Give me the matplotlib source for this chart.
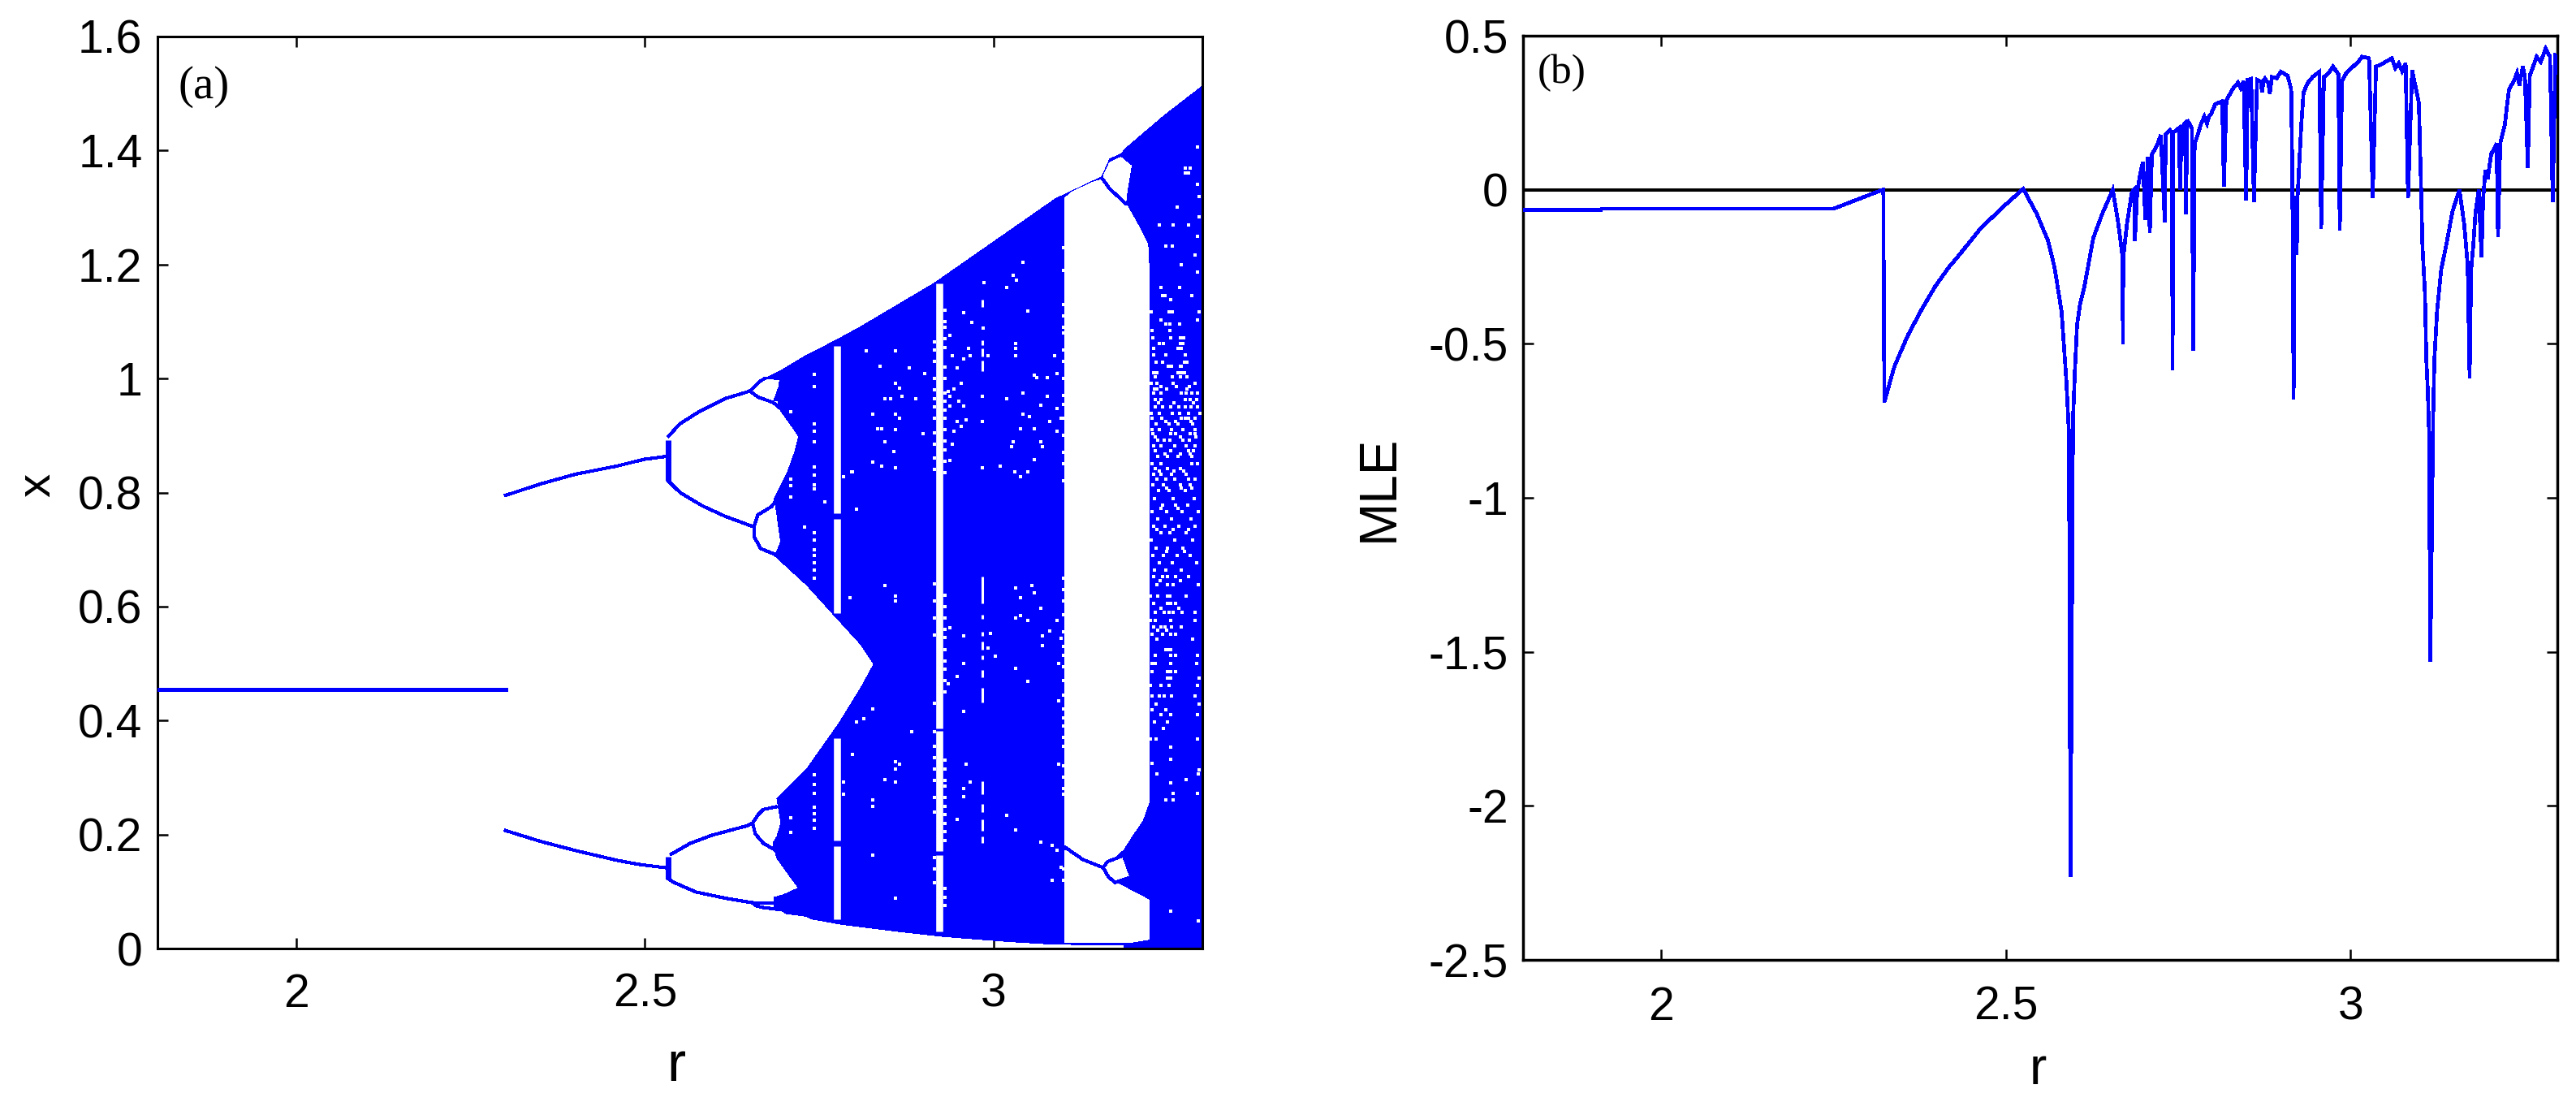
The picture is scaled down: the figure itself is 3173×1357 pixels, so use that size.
import matplotlib
matplotlib.use('Agg')
from matplotlib import pyplot as plt

###########################################################################
# (a) bifurcation diagram, outlines and dots

fixed_r = [1.8, 2.3]
fixed_x = [0.455, 0.455]

# period 2 branches
up_r = [2.3, 2.35, 2.40, 2.46, 2.499, 2.5283]
up_x = [0.795, 0.815, 0.832, 0.8465, 0.8583, 0.863]
lo_r = [2.3, 2.35, 2.40, 2.46, 2.4914, 2.5283]
lo_x = [0.207, 0.188, 0.172, 0.1547, 0.1476, 0.1419]

# period 4 branches
p4a_r = [2.534, 2.5497, 2.577, 2.6157, 2.6507, 2.666, 2.672]
p4a_x = [0.8987, 0.92, 0.9413, 0.965, 0.978, 0.996, 1.0]
p4b_r = [2.6507, 2.6623, 2.684, 2.692]
p4b_x = [0.978, 0.9675, 0.958, 0.95]
p4c_r = [2.534, 2.5505, 2.5827, 2.6157, 2.6565, 2.6623, 2.6817, 2.688]
p4c_x = [0.82, 0.8, 0.7765, 0.758, 0.7397, 0.761, 0.7753, 0.785]
p4d_r = [2.6565, 2.6565, 2.6662, 2.6856]
p4d_x = [0.7397, 0.7231, 0.7017, 0.692]
p4e_r = [2.538, 2.5652, 2.5963, 2.6468, 2.6545, 2.6584, 2.67, 2.688]
p4e_x = [0.1656, 0.1846, 0.1988, 0.2154, 0.2201, 0.2012, 0.1846, 0.172]
p4f_r = [2.6545, 2.6623, 2.6700, 2.688]
p4f_x = [0.2201, 0.2345, 0.2439, 0.2486]
p4g_r = [2.533, 2.542, 2.573, 2.6157, 2.6545, 2.6856]
p4g_x = [0.1229, 0.1158, 0.0992, 0.0882, 0.0802, 0.0802]
p4h_r = [2.6545, 2.6584, 2.668, 2.6934]
p4h_x = [0.0802, 0.0755, 0.0722, 0.0683]
split_r = [2.533, 2.533]
split_hi = [0.82, 0.892]
split2_r = [2.533, 2.533]
split2_lo = [0.1229, 0.1608]

# filled chaotic band, clockwise from the top left
band_r = [2.672, 2.6934, 2.732, 2.771, 2.81, 2.915, 3.09, 3.1025, 3.1557, 3.167, 3.183, 3.1926,
          3.245, 3.3, 3.3, 3.187, 3.187, 3.086, 3.02, 2.93, 2.86, 2.783, 2.74, 2.7323, 2.7031,
          2.6934, 2.6856, 2.6856, 2.6992, 2.7206, 2.709, 2.6895, 2.6837, 2.6895, 2.6953,
          2.6895, 2.7323, 2.7789, 2.81, 2.8286, 2.81, 2.771, 2.7323, 2.6856, 2.6895, 2.695,
          2.6895, 2.6856, 2.6934, 2.705, 2.7148, 2.7206, 2.7128, 2.6934, 2.684, 2.692, 2.6934]
band_x = [1.0, 1.0125, 1.041, 1.065, 1.091, 1.167, 1.316, 1.323, 1.354, 1.385, 1.394, 1.4064,
          1.461, 1.513, 0.0, 0.0, 0.0057, 0.0076, 0.0123, 0.0209, 0.0304, 0.0422, 0.0517, 0.0564,
          0.0612, 0.0683, 0.07, 0.0897, 0.0944, 0.1063, 0.1252, 0.1585, 0.1846, 0.1964, 0.2201,
          0.2629, 0.315, 0.3957, 0.4574, 0.4992, 0.5333, 0.5855, 0.6377, 0.6899, 0.697, 0.7136,
          0.761, 0.7895, 0.8085, 0.837, 0.8702, 0.8986, 0.9129, 0.946, 0.958, 0.985, 0.998]

# white period 3 window
win_r = [3.1025, 3.113, 3.144, 3.1557, 3.167, 3.183, 3.198, 3.192, 3.19, 3.1945, 3.21, 3.2217,
         3.2237, 3.2237, 3.214, 3.198, 3.187, 3.1576, 3.1285, 3.1025]
win_x = [1.3163, 1.3275, 1.345, 1.349, 1.379, 1.388, 1.373, 1.33, 1.307, 1.2973, 1.264, 1.2356,
         1.188, 0.2581, 0.2249, 0.1964, 0.175, 0.1419, 0.1561, 0.1775]
win2_r = [3.1025, 3.1576, 3.1654, 3.175, 3.198, 3.2237, 3.2237, 3.2, 3.1025]
win2_x = [0.172, 0.1419, 0.1253, 0.1158, 0.1015, 0.0849, 0.0161, 0.0112, 0.0112]
loop_r = [3.1576, 3.164, 3.187, 3.198, 3.175, 3.1654, 3.1576]
loop_x = [0.1419, 0.1525, 0.1632, 0.1253, 0.1158, 0.1253, 0.1419]
topbr_r = [3.1557, 3.167, 3.19]
topbr_x = [1.352, 1.333, 1.307]
lowbr_r = [3.1032, 3.1285, 3.1576]
lowbr_x = [0.1775, 0.1561, 0.1419]

# white stripes: r, from, to
stripe1_r = [2.776, 2.776, 2.776, 2.776]
stripe1_lo = [0.7634, 0.588, 0.1893, 0.0517]
stripe1_hi = [1.0576, 0.754, 0.3696, 0.1798]
stripe2_r = [2.922, 2.922, 2.922]
stripe2_lo = [0.3862, 0.1703, 0.0303]
stripe2_hi = [1.1668, 0.3815, 0.1632]
dash_lo = [0.605, 0.578, 0.548, 0.524, 0.507, 0.476, 0.431, 0.27, 0.239, 0.206, 0.185,
           1.126, 1.058, 1.039, 1.013]
dash_hi = [0.652, 0.585, 0.555, 0.538, 0.514, 0.488, 0.457, 0.294, 0.253, 0.227, 0.197,
           1.138, 1.067, 1.053, 1.032]

# ragged edges of the stripes and the window
rag_right_x = [1.12, 1.1, 1.09, 1.07, 1.055, 1.02, 1.0, 0.975, 0.96, 0.945, 0.93, 0.91, 0.89, 0.875,
               0.855, 0.835, 0.62, 0.6, 0.58, 0.56, 0.545, 0.525, 0.505, 0.49, 0.47, 0.45, 0.33,
               0.315, 0.295, 0.285, 0.265, 0.25, 0.235, 0.22, 0.205, 0.19, 0.105, 0.09, 0.075]
rag_left_x = [1.065, 1.05, 1.03, 1.0, 0.98, 0.965, 0.95, 0.93, 0.905, 0.885, 0.86, 0.84, 0.64, 0.61,
              0.58, 0.55, 0.43, 0.38, 0.355, 0.335, 0.315, 0.295, 0.265, 0.24, 0.16, 0.14, 0.115]
rag_win_x = [1.23, 1.19, 1.13, 1.11, 1.09, 1.08, 1.05, 1.03, 1.0, 0.97, 0.955, 0.93, 0.9, 0.87, 0.85,
             0.82, 0.65, 0.63, 0.61, 0.585, 0.555, 0.53, 0.515, 0.495, 0.47, 0.445, 0.42, 0.405,
             0.39, 0.37, 0.355, 0.32, 0.3, 0.28, 0.27, 0.14, 0.12]

# single white dots, low density part
dot_r = [2.8177, 2.8597, 2.837, 2.879, 2.902, 2.86, 2.866, 2.869, 2.844, 2.853, 2.889, 2.827, 2.86,
         2.866, 2.834, 2.84, 2.86, 2.899, 2.844, 2.857, 2.827, 2.84, 2.86, 2.797, 2.785,
         3.042, 3.029, 3.033, 2.987, 3.019, 3.049, 2.958, 2.969, 2.985, 2.938, 3.032, 3.032, 2.964,
         2.941, 2.958, 2.967, 2.993, 3.032, 3.088, 2.948, 3.059, 3.062, 3.078, 3.091, 2.954, 2.944,
         2.935, 2.938, 2.951, 2.984, 3.019, 3.042, 3.078, 3.068, 2.958, 2.938, 3.091, 3.042, 3.052,
         3.097, 2.961, 2.948, 2.984, 3.081, 2.954, 3.039, 3.059, 2.944, 3.091, 3.029, 3.068, 2.941,
         3.026, 3.071, 3.059, 2.938, 3.01, 2.984, 3.031, 3.049, 3.039,
         2.844, 2.86, 2.86, 2.794, 3.032, 3.055, 3.059, 3.039, 3.068, 3.039, 3.032, 3.049, 3.092,
         2.938, 3.081, 2.996, 2.958, 3.071, 3.097, 2.993, 3.071, 3.003, 2.958, 3.094, 3.032, 2.948,
         3.049, 2.935, 3.094, 2.827, 2.958, 2.814, 2.804, 2.883, 2.798, 2.86, 2.866, 2.86, 2.961,
         3.094, 2.844, 2.86, 2.785, 2.967, 2.958, 2.785, 2.958, 2.827, 2.827, 3.019, 2.948, 3.032,
         3.068, 3.084, 3.091, 2.827, 3.097, 3.084, 2.86, 3.254, 3.294,
         2.7427, 2.7427, 2.7097, 2.7427, 2.7427, 2.7427, 2.7427, 2.7427, 2.7427, 2.7427, 2.7097,
         2.7097, 2.7097, 2.7587, 2.7847, 2.7975, 2.804, 2.7291, 2.7427, 2.7427, 2.7427, 2.7427,
         2.7427, 2.7427, 2.7427, 2.794, 2.7427, 2.7427, 2.7427, 2.7427, 2.7427, 2.7427, 2.7427,
         2.7097, 2.7097, 2.7847, 2.7847, 2.7975, 2.804, 2.688]
dot_x = [1.049, 1.049, 1.022, 1.018, 1.009, 0.991, 0.983, 0.969, 0.965, 0.965, 0.965, 0.938, 0.938,
         0.93, 0.912, 0.912, 0.911, 0.903, 0.889, 0.872, 0.854, 0.846, 0.844, 0.837, 0.828,
         1.204, 1.181, 1.173, 1.168, 1.16, 1.119, 1.116, 1.098, 1.089, 1.075, 1.062, 1.053, 1.053,
         1.04, 1.035, 1.04, 1.04, 1.04, 1.04, 1.018, 1.006, 1.001, 1.001, 1.009, 0.991, 0.982,
         0.978, 0.969, 0.96, 0.969, 0.965, 0.974, 0.969, 0.953, 0.952, 0.952, 0.947, 0.937, 0.933,
         0.93, 0.927, 0.925, 0.925, 0.925, 0.916, 0.912, 0.912, 0.907, 0.907, 0.889, 0.889, 0.885,
         0.881, 0.881, 0.858, 0.856, 0.846, 0.844, 0.836, 0.836, 0.828,
         0.637, 0.619, 0.61, 0.615, 0.633, 0.637, 0.624, 0.615, 0.597, 0.584, 0.58, 0.576, 0.576,
         0.563, 0.557, 0.553, 0.549, 0.549, 0.544, 0.527, 0.531, 0.513, 0.5, 0.5, 0.492, 0.478,
         0.469, 0.465, 0.434, 0.42, 0.416, 0.403, 0.398, 0.381, 0.341, 0.327, 0.323, 0.315, 0.323,
         0.323, 0.297, 0.292, 0.292, 0.292, 0.28, 0.27, 0.267, 0.261, 0.249, 0.234, 0.226, 0.208,
         0.186, 0.181, 0.173, 0.164, 0.142, 0.12, 0.089, 0.066, 0.049,
         1.007, 0.9864, 0.9423, 0.92, 0.907, 0.889, 0.8455, 0.83, 0.814, 0.806, 0.823,
         0.812, 0.792, 0.7834, 0.8275, 0.8365, 0.7705, 0.7388, 0.73, 0.717, 0.699, 0.69,
         0.677, 0.664, 0.65, 0.6154, 0.3056, 0.288, 0.272, 0.2486, 0.237, 0.2258, 0.211,
         0.2296, 0.2035, 0.2922, 0.27, 0.3411, 0.398, 0.958]

# dense dots right of the window, one row per x value
dense_x = [1.406, 1.369, 1.3613, 1.34, 1.319, 1.301, 1.283, 1.27, 1.25, 1.233, 1.217, 1.2, 1.187,
           1.16, 1.146, 1.139, 1.117, 1.103, 1.096, 1.084, 1.072, 1.062, 1.053, 1.041, 1.029,
           1.022, 1.01, 1.003, 0.991, 0.982, 0.975, 0.963, 0.951, 0.939, 0.93, 0.92, 0.911,
           0.904, 0.892, 0.882, 0.873, 0.863, 0.851, 0.842, 0.832, 0.823,
           0.814, 0.803, 0.79, 0.778, 0.766, 0.754, 0.741, 0.729, 0.716, 0.703, 0.69, 0.677, 0.664,
           0.652, 0.638, 0.619, 0.605, 0.59, 0.576, 0.564, 0.552, 0.543, 0.524, 0.514, 0.5,
           0.486, 0.474, 0.462, 0.443, 0.429, 0.419, 0.41, 0.398, 0.386, 0.367, 0.353, 0.332,
           0.325, 0.313, 0.306, 0.297, 0.291, 0.272, 0.261,
           0.986, 0.957, 0.925, 0.898, 0.868, 0.838, 0.808, 0.772, 0.735, 0.697, 0.645, 0.597, 0.558]
dense_r = [[3.293], [3.275, 3.283], [3.275, 3.28], [3.293], [3.295], [3.264], [3.295],
           [3.238, 3.258, 3.28], [3.293], [3.247, 3.257], [3.29], [3.27], [3.293],
           [3.241, 3.267], [3.243, 3.246, 3.285], [3.254], [3.227, 3.252, 3.257, 3.295],
           [3.293, 3.241], [3.248, 3.253, 3.267], [3.228, 3.253], [3.229, 3.268, 3.273, 3.255],
           [3.238, 3.244, 3.268, 3.272], [3.23, 3.265, 3.27], [3.23, 3.248, 3.276],
           [3.234, 3.243, 3.274, 3.278], [3.251, 3.256, 3.268, 3.27],
           [3.23, 3.235, 3.265, 3.27, 3.274], [3.233, 3.257, 3.268, 3.278],
           [3.227, 3.235, 3.258, 3.29], [3.231, 3.235, 3.249, 3.278],
           [3.23, 3.24, 3.27, 3.277, 3.285, 3.293], [3.233, 3.24, 3.276, 3.283, 3.292],
           [3.232, 3.243, 3.254, 3.266, 3.275, 3.284, 3.293],
           [3.227, 3.238, 3.257, 3.267, 3.28, 3.296], [3.228, 3.242, 3.27, 3.275, 3.28, 3.29],
           [3.234, 3.252, 3.265, 3.286], [3.228, 3.238, 3.256, 3.272, 3.29],
           [3.229, 3.255, 3.262, 3.283, 3.289], [3.236, 3.245, 3.253, 3.272, 3.281],
           [3.23, 3.24, 3.26, 3.277, 3.29], [3.232, 3.254, 3.28, 3.287],
           [3.236, 3.25, 3.265, 3.285], [3.228, 3.24, 3.285, 3.293], [3.232, 3.25, 3.268],
           [3.23, 3.241, 3.256, 3.277], [3.235, 3.247, 3.26, 3.28, 3.29],
           [3.229, 3.244, 3.268, 3.283], [3.237, 3.252, 3.275], [3.231, 3.258, 3.288],
           [3.243, 3.262, 3.279], [3.228, 3.249, 3.271, 3.294], [3.236, 3.256, 3.284],
           [3.23, 3.246, 3.266, 3.29], [3.24, 3.253, 3.277], [3.227, 3.26, 3.286],
           [3.234, 3.25, 3.272], [3.229, 3.244, 3.264, 3.282], [3.238, 3.257, 3.292],
           [3.231, 3.247, 3.27],
           [3.23, 3.243, 3.25, 3.262, 3.28], [3.235, 3.25, 3.258, 3.294],
           [3.226, 3.236, 3.25, 3.253, 3.277], [3.23, 3.25, 3.255, 3.262],
           [3.232, 3.245, 3.252, 3.258, 3.271, 3.29], [3.226, 3.233, 3.254, 3.29],
           [3.23, 3.24, 3.246, 3.256, 3.27], [3.228, 3.243, 3.255, 3.262], [3.235, 3.286],
           [3.247, 3.252, 3.254], [3.233, 3.255, 3.262, 3.293], [3.228, 3.232, 3.255, 3.292],
           [3.228, 3.25, 3.255, 3.262], [3.25, 3.255, 3.295], [3.226, 3.24, 3.252, 3.293],
           [3.228, 3.238, 3.245, 3.256, 3.29], [3.234, 3.295], [3.228, 3.248],
           [3.24, 3.254, 3.293], [3.231, 3.25], [3.244], [3.226, 3.234, 3.293], [3.255],
           [3.254], [3.228], [3.295], [3.235, 3.294], [3.277], [3.254], [3.258, 3.293],
           [3.248, 3.258],
           [3.241, 3.263, 3.281], [3.237, 3.259, 3.287], [3.247, 3.262, 3.284], [3.233, 3.269, 3.291],
           [3.246, 3.269, 3.283], [3.238, 3.259, 3.273], [3.249, 3.27, 3.285], [3.241, 3.265],
           [3.235, 3.258, 3.28], [3.249, 3.274], [3.239, 3.268], [3.241, 3.266], [3.236, 3.249]]

###########################################################################
# (b) largest Lyapunov exponent

mle_r = [1.8, 1.913, 1.914, 2.251, 2.3215, 2.3225, 2.324, 2.3385, 2.358, 2.378, 2.3974, 2.417, 2.43,
         2.463, 2.496, 2.5254, 2.545, 2.5615, 2.571, 2.581, 2.5878, 2.5917, 2.594, 2.5976, 2.6005,
         2.6035, 2.608, 2.614, 2.627, 2.64, 2.6553, 2.663, 2.6695, 2.67, 2.6705, 2.6762, 2.683,
         2.686, 2.6874,
         2.6907, 2.696, 2.699, 2.7025, 2.706, 2.709, 2.712, 2.719, 2.725, 2.7307, 2.732, 2.738,
         2.741, 2.742, 2.743, 2.746, 2.751, 2.753, 2.755, 2.76, 2.7615, 2.763, 2.765, 2.77, 2.772,
         2.774, 2.778, 2.783, 2.788, 2.792, 2.795, 2.798, 2.804, 2.814, 2.8165, 2.82, 2.83, 2.837,
         2.841, 2.845, 2.8487, 2.851, 2.856, 2.86, 2.8645, 2.87, 2.8717, 2.874, 2.876, 2.881, 2.883,
         2.886, 2.893, 2.899, 2.909, 2.914, 2.9156, 2.9175, 2.919, 2.922, 2.9234, 2.9287, 2.932,
         2.9385, 2.945, 2.955, 2.9575, 2.9615, 2.968, 2.9746, 2.9825, 2.9845, 2.9877, 2.994, 3.004,
         3.011, 3.017, 3.027, 3.0323, 3.037, 3.043, 3.05, 3.06, 3.065, 3.07, 3.075, 3.08, 3.0835,
         3.0894, 3.0992, 3.1025, 3.1044, 3.108, 3.11, 3.112, 3.114, 3.1158, 3.1178, 3.1198, 3.1217,
         3.1257, 3.1316, 3.1394, 3.148, 3.158, 3.165, 3.17, 3.1728, 3.175, 3.178, 3.1812, 3.186,
         3.19, 3.1923, 3.1956, 3.199, 3.204, 3.212, 3.214, 3.2172, 3.224, 3.227, 3.23, 3.237, 3.2415,
         3.245, 3.25, 3.253, 3.2572, 3.26, 3.263, 3.27, 3.276, 3.283, 3.2894, 3.2933, 3.2972, 3.3]
mle_v = [-0.066, -0.066, -0.061, -0.061, 0.0, 0.0, -0.689, -0.574, -0.473, -0.389, -0.315, -0.253, -0.219,
         -0.127, -0.056, 0.003, -0.078, -0.166, -0.254, -0.395, -0.614, -0.79, -2.23, -0.746, -0.58,
         -0.438, -0.37, -0.316, -0.157, -0.078, 0.0, -0.105, -0.219, -0.5, -0.219, -0.105, -0.008,
         0.0, -0.166,
         -0.005, 0.062, 0.089, -0.096, 0.106, -0.14, 0.115, 0.142, 0.177, -0.105, 0.181, 0.194,
         0.185, -0.586, 0.188, 0.19, 0.2, 0.0, 0.203, 0.215, -0.078, 0.21, 0.22, 0.2, -0.521,
         0.15, 0.175, 0.212, 0.238, 0.215, 0.24, 0.247, 0.278, 0.287, 0.01, 0.29, 0.33, 0.348,
         0.33, 0.352, -0.034, 0.357, 0.36, -0.039, 0.357, 0.35, 0.317, 0.355, 0.361, 0.345, 0.313,
         0.366, 0.362, 0.383, 0.37, 0.326, 0.071, -0.68, -0.02, -0.21, -0.017, 0.212, 0.317,
         0.348, 0.366, 0.383, -0.127, 0.366, 0.378, 0.40, 0.375, -0.131, 0.353, 0.379, 0.40,
         0.415, 0.432, 0.427, -0.026, 0.40, 0.405, 0.414, 0.427, 0.395, 0.41, 0.385, 0.41, -0.026,
         0.388, 0.282, 0.0, -0.184, -0.334, -0.551, -0.645, -0.787, -1.531, -1.163, -0.749, -0.551,
         -0.391, -0.259, -0.174, -0.07, 0.0, -0.113, -0.245, -0.61, -0.26, -0.184, -0.078, 0.0,
         -0.217, -0.034, 0.062, 0.035, 0.115, 0.15, -0.153, 0.15, 0.212, 0.273, 0.326, 0.353, 0.379,
         0.34, 0.40, 0.366, 0.071, 0.37, 0.388, 0.432, 0.415, 0.458, 0.432, -0.039, 0.436, 0.432]
zero_r = [1.8, 3.3]
zero_v = [0.0, 0.0]

# ticks
r_ticks = [2, 2.5, 3]
r_labels = ['2', '2.5', '3']
x_ticks = [0, 0.2, 0.4, 0.6, 0.8, 1, 1.2, 1.4, 1.6]
x_labels = ['0', '0.2', '0.4', '0.6', '0.8', '1', '1.2', '1.4', '1.6']
mle_ticks = [-2.5, -2, -1.5, -1, -0.5, 0, 0.5]
mle_labels = ['-2.5', '-2', '-1.5', '-1', '-0.5', '0', '0.5']

W, H = 3173, 1357
BLUE = '#0000ff'
plt.rcParams['font.family'] = ['Liberation Sans', 'DejaVu Sans']

fig = plt.figure(figsize=(W/100, H/100), dpi=100)
ax1 = fig.add_axes([193.5/W, 1-1168/H, (1481-193.5)/W, (1168-45)/H])
ax2 = fig.add_axes([1876/W, 1-1182/H, (3150-1876)/W, (1182-44)/H])

# panel a
ax1.set_axisbelow(True)
ax1.fill(band_r, band_x, color=BLUE, lw=0, antialiased=False, zorder=2)
ax1.fill(win_r, win_x, color='white', lw=0, antialiased=False, zorder=3)
ax1.fill(win2_r, win2_x, color='white', lw=0, antialiased=False, zorder=3)
ax1.fill(loop_r, loop_x, color='white', lw=0, antialiased=False, zorder=3)
ax1.vlines(stripe1_r, stripe1_lo, stripe1_hi, colors='white', lw=6.2, zorder=3)
ax1.vlines(stripe2_r, stripe2_lo, stripe2_hi, colors='white', lw=6.2, zorder=3)
ax1.vlines([2.984]*len(dash_lo), dash_lo, dash_hi, colors='white', lw=2.2, zorder=3)

dr = [r for row in dense_r for r in row]
dx = [x for x, row in zip(dense_x, dense_r) for r in row]
ax1.plot(dot_r, dot_x, 's', color='white', ms=2.6, mew=0, zorder=3)
ax1.plot(dr, dx, 's', color='white', ms=3, mew=0, zorder=3)
ax1.plot([2.9305]*len(rag_right_x), rag_right_x, 's', color='white', ms=3, mew=0, zorder=3)
ax1.plot([2.9155]*len(rag_left_x), rag_left_x, 's', color='white', ms=3, mew=0, zorder=3)
ax1.plot([3.1005]*len(rag_win_x), rag_win_x, 's', color='white', ms=3, mew=0, zorder=3)

branches = [(fixed_r, fixed_x), (up_r, up_x), (lo_r, lo_x), (p4a_r, p4a_x), (p4b_r, p4b_x),
            (p4c_r, p4c_x), (p4d_r, p4d_x), (p4e_r, p4e_x), (p4f_r, p4f_x), (p4g_r, p4g_x),
            (p4h_r, p4h_x), (loop_r, loop_x), (topbr_r, topbr_x), (lowbr_r, lowbr_x)]
for r, x in branches:
    ax1.plot(r, x, color=BLUE, lw=2.2, antialiased=False, zorder=4)
ax1.plot(split_r, split_hi, color=BLUE, lw=5, solid_capstyle='butt', zorder=4)
ax1.plot(split2_r, split2_lo, color=BLUE, lw=5, solid_capstyle='butt', zorder=4)

ax1.set_xlim(1.8, 3.3)
ax1.set_ylim(0, 1.6)
ax1.set_yticks(x_ticks)
ax1.set_yticklabels(x_labels)
ax1.set_xlabel('r', fontsize=50, va='baseline')
ax1.xaxis.set_label_coords(0.4967, -0.1451)
ax1.set_ylabel('x', fontsize=42, va='baseline')
ax1.yaxis.set_label_coords(-0.1029, 0.5085)
ax1.text(0.0205, 0.968, '(a)', transform=ax1.transAxes, family='Liberation Serif', fontsize=41,
         va='top', ha='left')

# panel b
ax2.plot(zero_r, zero_v, color='black', lw=2.9, zorder=2)
ax2.plot(mle_r, mle_v, color=BLUE, lw=2.6, solid_joinstyle='miter', antialiased=False, zorder=3)
ax2.set_xlim(1.8, 3.3)
ax2.set_ylim(-2.5, 0.5)
ax2.set_yticks(mle_ticks)
ax2.set_yticklabels(mle_labels)
ax2.set_xlabel('r', fontsize=46, va='baseline')
ax2.xaxis.set_label_coords(0.4976, -0.1344)
ax2.set_ylabel('MLE', fontsize=46, va='baseline')
ax2.yaxis.set_label_coords(-0.1256, 0.5105)
ax2.text(0.014, 0.98, '(b)', transform=ax2.transAxes, family='Liberation Serif', fontsize=37,
         va='top', ha='left')

for ax, sp_w, pad_x in ((ax1, 2.2, 21.6), (ax2, 2.5, 23)):
    ax.set_xticks(r_ticks)
    ax.set_xticklabels(r_labels)
    ax.tick_params(direction='in', top=True, right=True, length=9.5, width=1.8, labelsize=41)
    ax.tick_params(axis='x', pad=pad_x)
    ax.tick_params(axis='y', pad=13)
    for s in ax.spines.values():
        s.set_linewidth(sp_w)

fig.savefig('out.png', dpi=100)
